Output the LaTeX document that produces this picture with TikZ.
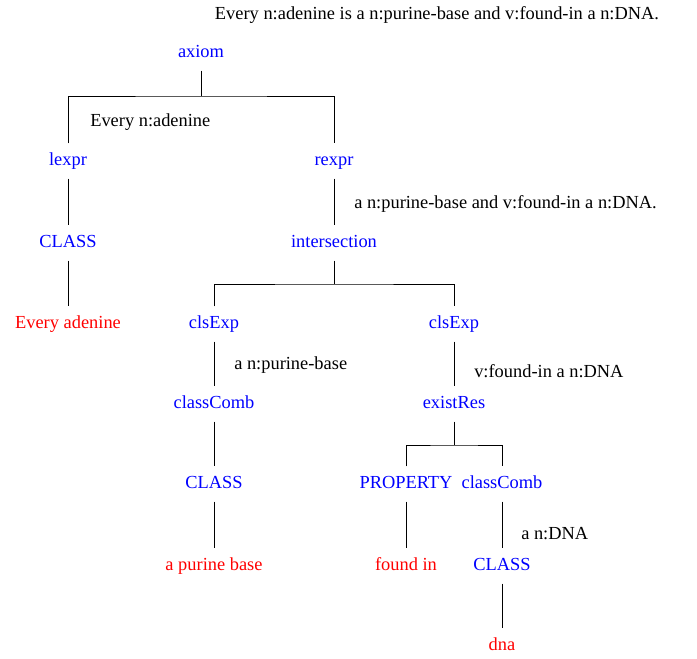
\documentclass[tikz,border=0pt]{standalone}
\usepackage{fontspec}
\setmainfont{Liberation Serif}
\begin{document}
\begin{tikzpicture}[x=0.75pt,y=-0.75pt,
    every node/.style={font=\fontsize{13.8}{16}\selectfont},
    rule/.style={text=blue, inner sep=0pt, minimum height=26pt, text height=10pt, text depth=3.5pt},
    leaf/.style={rule, text=red},
    gloss/.style={anchor=west, inner sep=0pt}]
    \useasboundingbox (0,0) rectangle (697,658);

    \node (sentence) at (437,15) {Every n:adenine is a n:purine-base and v:found-in a n:DNA.};

    \node[rule] (axiom) at (201,53) {axiom};
    \node[rule] (lexpr) at (68,161) {lexpr};
    \node[rule] (rexpr) at (334,161) {rexpr};
    \node[rule] (class1) at (68,243) {CLASS};
    \node[rule] (inter) at (334,243) {intersection};
    \node[leaf] (adenine) at (68,324) {Every adenine};
    \node[rule] (clsExp1) at (214,324) {clsExp};
    \node[rule] (clsExp2) at (454,324) {clsExp};
    \node[rule] (classComb1) at (214,404) {classComb};
    \node[rule] (existRes) at (454,404) {existRes};
    \node[rule] (class2) at (214,484) {CLASS};
    \node[rule] (property) at (406,484) {PROPERTY};
    \node[rule] (classComb2) at (502,484) {classComb};
    \node[leaf] (purine) at (214,566) {a purine base};
    \node[leaf] (found) at (406,566) {found in};
    \node[rule] (class3) at (502,566) {CLASS};
    \node[leaf] (dna) at (502,646) {dna};

    % spans of text under each branch
    \node[gloss] (gLexpr) at (90,122) {Every n:adenine};
    \node[gloss] (gRexpr) at (354,204) {a n:purine-base and v:found-in a n:DNA.};
    \node[gloss] (gCls1) at (234,365) {a n:purine-base};
    \node[gloss] (gCls2) at (474,371) {v:found-in a n:DNA};
    \node[gloss] (gComb) at (521,534) {a n:DNA};

    \coordinate (jAxiom) at (201,96);
    \coordinate (jInter) at (334,284);
    \coordinate (jExist) at (454,445);

    \draw (axiom) -- (jAxiom);
    \draw (lexpr) |- (jAxiom) -| (rexpr);
    \draw (lexpr) -- (class1) -- (adenine);
    \draw (rexpr) -- (inter) -- (jInter);
    \draw (clsExp1) |- (jInter) -| (clsExp2);
    \draw (clsExp1) -- (classComb1) -- (class2) -- (purine);
    \draw (clsExp2) -- (existRes) -- (jExist);
    \draw (property) |- (jExist) -| (classComb2);
    \draw (property) -- (found);
    \draw (classComb2) -- (class3) -- (dna);
\end{tikzpicture}
\end{document}
